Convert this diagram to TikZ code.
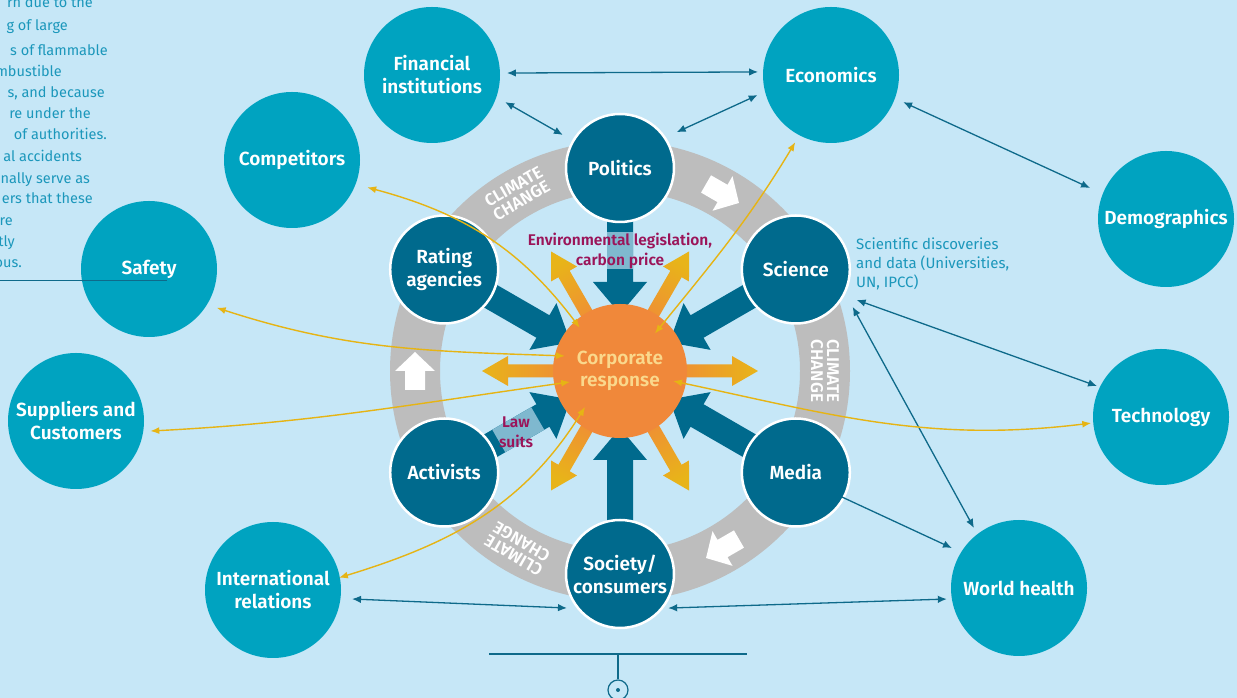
\documentclass[tikz,border=0pt]{standalone}
\usepackage{fontspec}
\setmainfont{Fira Sans}[BoldFont={Fira Sans SemiBold}]
\usetikzlibrary{arrows.meta,calc}
\definecolor{bgc}{HTML}{C6E7F7}
\definecolor{outc}{HTML}{00A3C0}
\definecolor{innc}{HTML}{006A8D}
\definecolor{linec}{HTML}{0E6A8A}
\definecolor{yelc}{HTML}{E6B414}
\definecolor{orac}{HTML}{F0883A}
\definecolor{ringc}{HTML}{BDBDBD}
\definecolor{purc}{HTML}{9B1459}
\definecolor{txtc}{HTML}{1B97BB}
\definecolor{crtxt}{HTML}{FAD88C}
\definecolor{lightsh}{HTML}{7FB8CF}
\definecolor{arryel}{HTML}{E8B419}
\tikzset{
  outer/.style={circle, fill=outc, minimum size=136pt, inner sep=0pt, outer sep=0pt, text=white, font=\bfseries\fontsize{19}{23}\selectfont, align=center},
  innernode/.style={circle, fill=innc, draw=white, line width=2.5pt, minimum size=108pt, inner sep=0pt, text=white, font=\bfseries\fontsize{19}{23}\selectfont, align=center},
  crnode/.style={circle, fill=orac, minimum size=134pt, inner sep=0pt, text=crtxt, font=\bfseries\fontsize{19}{22}\selectfont, align=center},
  para/.style={anchor=base east, text=txtc, font=\fontsize{14.5}{17}\selectfont, inner sep=0pt},
  note/.style={anchor=north west, text=txtc, font=\fontsize{15}{19}\selectfont, inner sep=0pt, align=left},
  pur/.style={text=purc, font=\bfseries\fontsize{15.5}{20}\selectfont, inner sep=0pt, align=center},
  cclabel/.style={text=white, font=\bfseries\fontsize{17}{16}\selectfont, inner sep=0pt, align=center},
  blu/.style={linec, line width=1.3pt, {Latex[length=9pt,width=7.5pt]}-{Latex[length=9pt,width=7.5pt]}},
  bluone/.style={linec, line width=1.3pt, -{Latex[length=9pt,width=7.5pt]}},
  yel/.style={yelc, line width=1.4pt, {Latex[length=9pt,width=7pt]}-{Latex[length=9pt,width=7pt]}},
}
\begin{document}
\begin{tikzpicture}[x=1pt,y=1pt]
\useasboundingbox (0,0) rectangle (1237,698);
\clip (0,0) rectangle (1237,698);
\fill[bgc] (0,0) rectangle (1237,698);

% paragraph fragment
\node[para] (p1) at (93,690.5) {rn due to the};
\node[para] (p2) at (68,667.5) {g of large};
\node[para] (p3) at (108,642.5) {s of flammable};
\node[para] (p4) at (62,621.5) {mbustible};
\node[para] (p5) at (105,600.5) {s, and because};
\node[para] (p6) at (91,579.5) {re under the};
\node[para] (p7) at (107,558.5) {of authorities.};
\node[para] (p8) at (82,536.5) {al accidents};
\node[para] (p9) at (90,514.5) {nally serve as};
\node[para] (p10) at (93,494.5) {ers that these};
\node[para] (p11) at (13,472.5) {re};
\node[para] (p12) at (15,451.5) {tly};
\node[para] (p13) at (22,430.5) {ous.};

% ring
\coordinate (c) at (620,327);
\draw[ringc, line width=50pt] (c) circle (205pt);
\foreach \a/\n in {120/a,0/b,240/c}
  \node[cclabel, rotate=\a-90] (cc\n) at ($(c)+(\a:205)$) {CLIMATE\\CHANGE};
\foreach \a in {180,60,-60}
  \fill[white, shift={($(c)+(\a:205)$)}, rotate=\a-90]
    (19,0) -- (0,20) -- (0,10) -- (-19,10) -- (-19,-10) -- (0,-10) -- (0,-20) -- cycle;

% dark arrows
\foreach \a in {90,150,30,210,330,270}
  \fill[innc, shift={(620,327)}, rotate=\a]
    (57,0) -- (89,27) -- (89,13) -- (200,13) -- (200,-13) -- (89,-13) -- (89,-27) -- cycle;
\fill[lightsh, shift={(620,327)}, rotate=90] (102,-13) rectangle (139,13);
\fill[lightsh, shift={(620,327)}, rotate=210] (95,-13) rectangle (140,13);

% orange arrows
\foreach \a in {0,60,120,180,240,300}
  \shade[shift={(620,327)}, rotate=\a, left color=orac, right color=arryel, shading angle=90+\a]
    (40,-6.5) -- (112,-6.5) -- (112,-15) -- (138,0) -- (112,15) -- (112,6.5) -- (40,6.5) -- cycle;

\node[crnode] (cr) at (620,327) {Corporate\\response};

% inner nodes
\node[innernode] (pol) at ($(c)+(90:203)$) {Politics};
\node[innernode] (rat) at ($(c)+(150:203)$) {Rating\\agencies};
\node[innernode] (sci) at ($(c)+(30:203)$) {Science};
\node[innernode] (act) at ($(c)+(210:203)$) {Activists};
\node[innernode] (med) at ($(c)+(330:203)$) {Media};
\node[innernode] (soc) at ($(c)+(270:203)$) {Society/\\consumers};

% outer nodes
\node[outer] (fin) at (432,623) {Financial\\institutions};
\node[outer] (econ) at (831,623) {Economics};
\node[outer] (comp) at (292,538) {Competitors};
\node[outer] (safety) at (149,429) {Safety};
\node[outer] (supp) at (76,277) {Suppliers and\\Customers};
\node[outer] (intl) at (273,108) {International\\relations};
\node[outer] (demo) at (1166,479) {Demographics};
\node[outer] (tech) at (1161,281) {Technology};
\node[outer] (wh) at (1019,110) {World health};

\draw[linec, line width=1pt] (0,417) -- (167,417);

% labels
\node[pur] (leg) at (620,447) {Environmental legislation,\\carbon price};
\node[pur] (law) at (516,266) {Law\\suits};
\node[note] (scinote) at (856,460) {Scientific discoveries\\and data (Universities,\\UN, IPCC)};

% thin blue connectors
\draw[blu] ($(fin)+(1.5:75)$) -- ($(econ)+(177.6:73)$);
\draw[blu] ($(fin)+(-20.3:78)$) -- ($(pol)+(150:66)$);
\draw[blu] ($(econ)+(-164.7:76)$) -- ($(pol)+(32.3:67)$);
\draw[blu] ($(econ)+(-20.6:77)$) -- ($(demo)+(157.8:82)$);
\draw[blu] ($(sci)+(-26.6:68)$) -- ($(tech)+(154.2:71)$);
\draw[blu] ($(sci)+(-33.3:68)$) -- ($(wh)+(126.9:75)$);
\draw[bluone] ($(med)+(-28:52)$) -- ($(wh)+(149.2:78)$);
\draw[blu] ($(intl)+(-6.5:79.5)$) -- ($(soc)+(-147.3:63)$);
\draw[blu] ($(soc)+(-35.3:59)$) -- ($(wh)+(188.7:73)$);

% yellow connectors
\draw[yel] ($(comp)+(-20:80)$) to[out=-15,in=127] ($(cr)+(133:59)$);
\draw[yel] ($(econ)+(-118:76)$) to[out=-121,in=51] ($(cr)+(47:51)$);
\draw[yel] ($(safety)+(-29.8:78)$) to[out=-18,in=178] ($(cr)+(164.7:57)$);
\draw[yel] ($(supp)+(-7.7:75)$) to[out=3,in=188] ($(cr)+(-167.6:51)$);
\draw[yel] ($(intl)+(10.5:67)$) to[out=17,in=-122] ($(cr)+(-134.2:50)$);
\draw[yel] ($(tech)+(185:70)$) to[out=187,in=-12] ($(cr)+(-10.7:54)$);

% bottom marker
\coordinate (bl) at (489,44);
\coordinate (br) at (747,44);
\coordinate (bm) at (618,44);
\draw[linec, line width=1.2pt] (bl) -- (br);
\node[circle, draw=linec, line width=1.2pt, minimum size=20pt, inner sep=0pt] (bc) at (618,8) {};
\fill[linec] (bc.center) circle (2pt);
\draw[linec, line width=1.2pt] (bm) -- (bc.north);
\end{tikzpicture}
\end{document}
